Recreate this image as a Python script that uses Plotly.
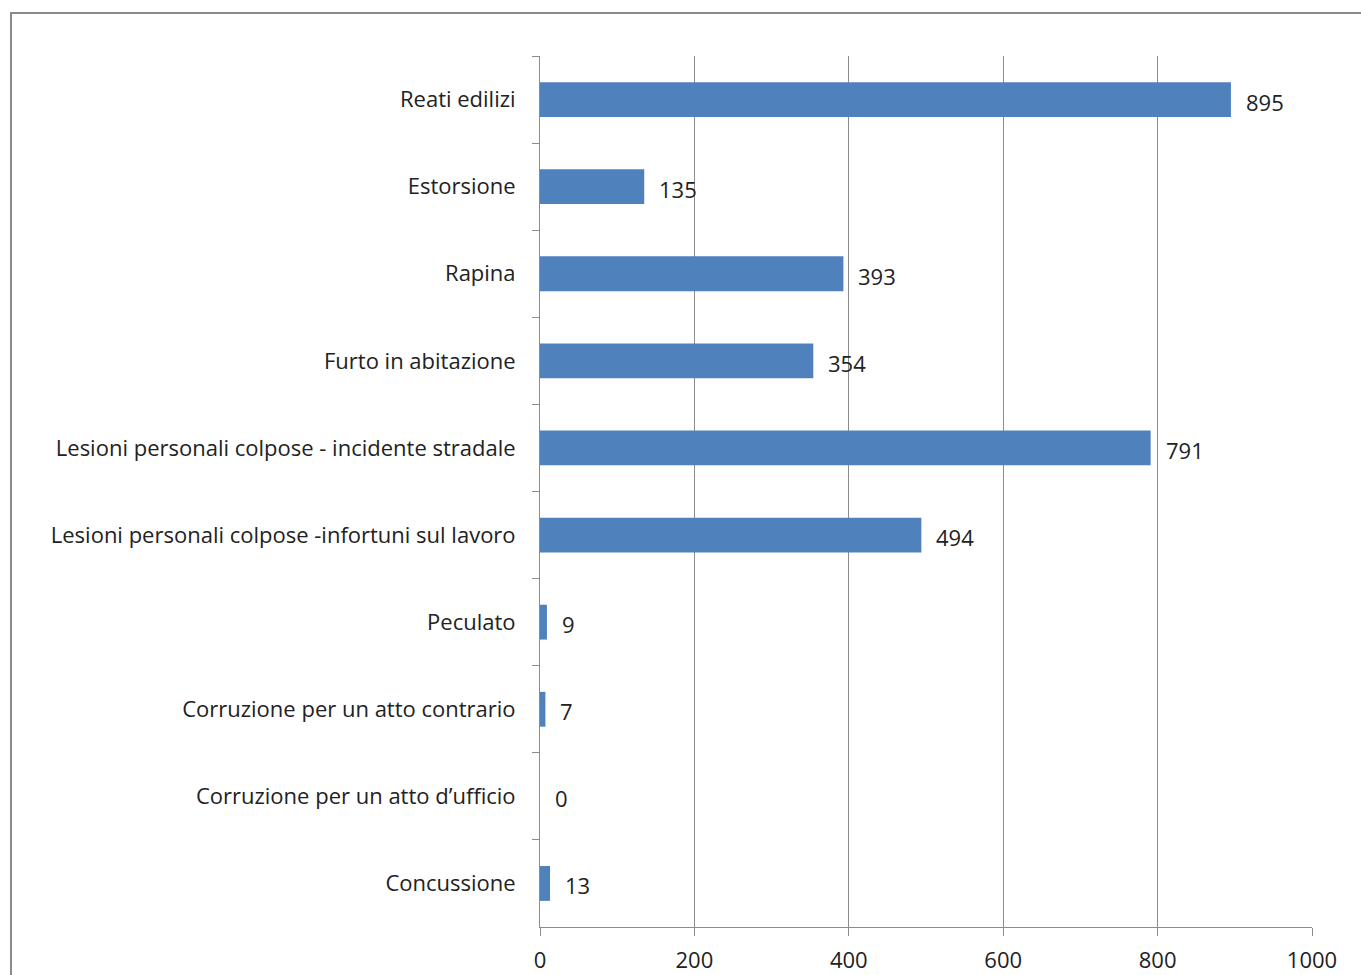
import plotly.graph_objects as go

# Reati (numero di procedimenti)
categories = [
    "Reati edilizi",
    "Estorsione",
    "Rapina",
    "Furto in abitazione",
    "Lesioni personali colpose - incidente stradale",
    "Lesioni personali colpose -infortuni sul lavoro",
    "Peculato",
    "Corruzione per un atto contrario",
    "Corruzione per un atto d\u2019ufficio",
    "Concussione",
]
values = [895, 135, 393, 354, 791, 494, 9, 7, 0, 13]
x_ticks = [0, 200, 400, 600, 800, 1000]

FONT = "'Open Sans', Lato, sans-serif"
FSIZE = 22
TEXT_COLOR = "#222222"
GRID = "#8c8c8c"

W, H = 1361, 975
L, R, T, B = 540, 49, 56, 48
pw, ph = W - L - R, H - T - B

fig = go.Figure(
    go.Bar(
        x=values,
        y=categories,
        orientation="h",
        marker=dict(color="#4F81BD", line=dict(width=0)),
        hoverinfo="x+y",
    )
)

# value labels to the right of each bar
for cat, v in zip(categories, values):
    fig.add_annotation(
        x=v, y=cat, text=str(v), showarrow=False,
        xanchor="left", yanchor="middle", xshift=13, yshift=-2,
        font=dict(family=FONT, size=FSIZE, color=TEXT_COLOR),
    )

# outer chart frame
def px_x(p):
    return (p - L) / pw

def px_y(p):
    return (H - B - p) / ph

fig.add_shape(
    type="rect", xref="paper", yref="paper",
    x0=px_x(11), x1=px_x(1400), y0=px_y(1000), y1=px_y(13),
    line=dict(color="#8a8a8a", width=2), fillcolor="rgba(0,0,0,0)",
    layer="below",
)

fig.update_layout(
    width=W, height=H,
    margin=dict(l=L, r=R, t=T, b=B, autoexpand=False),
    paper_bgcolor="white", plot_bgcolor="white",
    bargap=0.6,
    showlegend=False,
    font=dict(family=FONT, size=FSIZE, color=TEXT_COLOR),
    xaxis=dict(
        range=[0, 1000],
        tickvals=x_ticks,
        showgrid=True, gridcolor=GRID, gridwidth=1,
        showline=True, linecolor=GRID, linewidth=1,
        ticks="outside", ticklen=8, tickcolor=GRID,
        zeroline=False, automargin=False,
        tickfont=dict(family=FONT, size=FSIZE, color=TEXT_COLOR),
        ticklabelstandoff=6,
    ),
    yaxis=dict(
        autorange="reversed",
        showgrid=False, automargin=False,
        showline=True, linecolor=GRID, linewidth=1,
        ticks="outside", ticklen=7, tickcolor=GRID,
        tickson="boundaries",
        tickfont=dict(family=FONT, size=FSIZE, color=TEXT_COLOR),
        ticklabelstandoff=19,
    ),
)

fig.write_html("out.html")
